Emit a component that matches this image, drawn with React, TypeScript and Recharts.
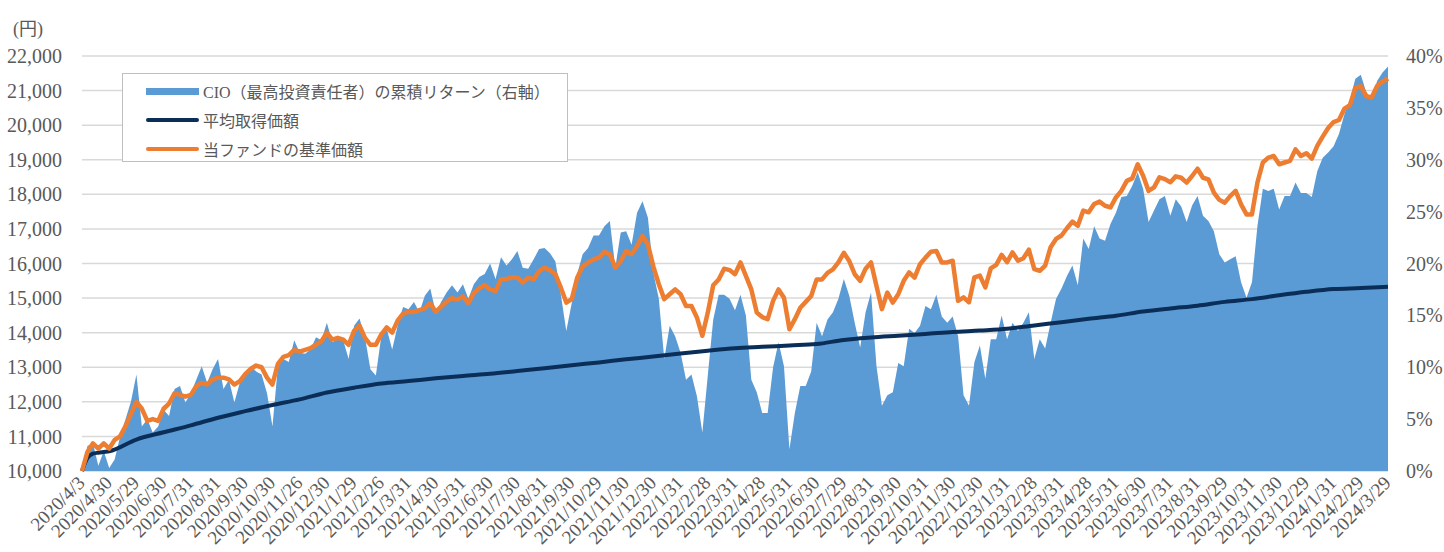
import React from 'react';
import { ComposedChart, Area, Line, XAxis, YAxis, CartesianGrid, Legend } from 'recharts';

const SERIF = '"Liberation Serif", "Noto Sans CJK JP", serif';
const GRAY = '#595959';
const SUB = 5; // readings per month

const monthEnds = [
  '2020/4/3', '2020/4/30', '2020/5/29', '2020/6/30', '2020/7/31', '2020/8/31', '2020/9/30', '2020/10/30', '2020/11/26', '2020/12/30',
  '2021/1/29', '2021/2/26', '2021/3/31', '2021/4/30', '2021/5/31', '2021/6/30', '2021/7/30', '2021/8/31', '2021/9/30', '2021/10/29', '2021/11/30', '2021/12/30',
  '2022/1/31', '2022/2/28', '2022/3/31', '2022/4/28', '2022/5/31', '2022/6/30', '2022/7/29', '2022/8/31', '2022/9/30', '2022/10/31', '2022/11/30', '2022/12/30',
  '2023/1/31', '2023/2/28', '2023/3/31', '2023/4/28', '2023/5/31', '2023/6/30', '2023/7/31', '2023/8/31', '2023/9/29', '2023/10/31', '2023/11/30', '2023/12/29',
  '2024/1/31', '2024/2/29', '2024/3/29',
];

// 当ファンドの基準価額 (円), 5 readings per month
const nav2020 = [
  10000, 10550, 10800, 10650, 10800, 10650, 10900, 11000, 11300, 11650,
  12000, 11800, 11450, 11500, 11450, 11800, 11950, 12250, 12200, 12150,
  12200, 12450, 12550, 12500, 12650, 12700, 12700, 12650, 12500, 12600,
  12800, 12950, 13050, 13000, 12700, 12500, 13100, 13300, 13350, 13500,
  13450, 13500, 13550, 13650, 13750, 14000, 13800, 13850, 13800, 13650,
];
const nav2021 = [
  14050, 14200, 13850, 13650, 13650, 13950, 14150, 14000, 14350, 14550,
  14600, 14600, 14650, 14700, 14850, 14600, 14750, 14900, 15000, 14950,
  15050, 14850, 15150, 15280, 15380, 15250, 15200, 15540, 15550, 15600,
  15590, 15450, 15590, 15540, 15780, 15880, 15810, 15690, 15300, 14870,
  14970, 15590, 15910, 16030, 16120, 16170, 16340, 16270, 15880, 16070,
  16360, 16270, 16500, 16800, 16550, 15910, 15400, 14970, 15110, 15250,
];
const nav2022 = [
  15110, 14770, 14770, 14440, 13910, 14580, 15370, 15540, 15850, 15810,
  15690, 16030, 15640, 15250, 14580, 14450, 14390, 14920, 15250, 15010,
  14100, 14390, 14720, 14890, 15060, 15540, 15540, 15730, 15830, 16030,
  16310, 16070, 15690, 15500, 15850, 16030, 15350, 14680, 15160, 14870,
  15110, 15500, 15740, 15590, 15980, 16170, 16340, 16360, 16030, 16030,
  16080, 14920, 15020, 14880, 15600, 15650, 15310, 15860, 15960, 16250,
];
const nav2023 = [
  16040, 16320, 16080, 16150, 16400, 15840, 15790, 15940, 16470, 16710,
  16810, 17020, 17210, 17090, 17530, 17480, 17720, 17790, 17670, 17620,
  17910, 18100, 18390, 18460, 18870, 18540, 18100, 18200, 18490, 18440,
  18350, 18520, 18480, 18340, 18530, 18740, 18480, 18430, 18050, 17840,
  17760, 17950, 18100, 17710, 17420, 17420, 18340, 18920, 19060, 19110,
  18870, 18920, 18970, 19300, 19110, 19190, 19030, 19400, 19670, 19920,
];
const nav2024 = [
  20090, 20150, 20480, 20580, 21080, 21130, 20840, 20800, 21130, 21260,
  21350,
];

// CIO（最高投資責任者）の累積リターン (%), same dates
const cio2020 = [
  0, 2.4, 2.7, 0.5, 1.9, 0.3, 1.1, 3.3, 5.0, 6.7,
  9.3, 4.3, 5.0, 3.7, 4.3, 5.9, 5.3, 7.9, 8.2, 6.6,
  7.5, 8.8, 10.1, 8.5, 9.8, 10.8, 7.9, 8.8, 6.6, 8.5,
  9.2, 10.1, 9.6, 9.3, 7.5, 4.3, 10.1, 10.8, 10.5, 12.6,
  11.4, 11.3, 11.7, 12.9, 12.6, 14.3, 12.4, 12.7, 12.6, 10.8,
];
const cio2021 = [
  14.0, 14.7, 12.9, 9.8, 9.2, 13.0, 13.7, 11.7, 14.0, 15.8,
  15.6, 16.3, 15.3, 16.9, 17.6, 15.3, 16.3, 17.2, 17.9, 17.2,
  18.0, 16.6, 18.0, 18.7, 19.0, 20.0, 18.5, 20.6, 19.8, 20.4,
  21.2, 19.6, 19.5, 20.4, 21.4, 21.5, 21.0, 20.2, 17.0, 13.5,
  16.2, 19.0, 20.9, 21.5, 22.7, 22.7, 23.6, 24.1, 19.6, 23.0,
  23.1, 21.8, 24.9, 26.0, 24.4, 19.1, 16.6, 10.8, 14.0, 13.0,
];
const cio2022 = [
  11.4, 8.8, 9.3, 7.2, 3.7, 9.2, 14.6, 17.0, 17.0, 16.6,
  15.5, 17.0, 15.0, 8.8, 7.6, 5.6, 5.6, 10.0, 12.4, 10.1,
  2.1, 5.6, 8.2, 8.2, 9.6, 14.3, 13.0, 14.6, 15.3, 16.6,
  18.5, 16.9, 14.3, 11.9, 15.3, 17.2, 10.1, 6.3, 7.3, 7.6,
  10.4, 10.1, 13.7, 13.3, 14.0, 15.9, 15.6, 17.0, 14.9, 14.3,
  14.9, 13.0, 7.3, 6.3, 10.5, 12.1, 8.9, 12.7, 12.7, 15.0,
];
const cio2023 = [
  12.7, 14.3, 13.5, 14.3, 15.3, 10.8, 12.7, 11.8, 14.3, 16.6,
  17.6, 18.8, 19.8, 17.9, 22.4, 21.4, 23.6, 22.4, 22.2, 23.8,
  24.9, 26.4, 26.5, 27.5, 28.8, 27.2, 24.0, 25.1, 26.2, 26.5,
  24.6, 26.2, 25.5, 24.0, 25.6, 26.5, 24.6, 24.1, 23.1, 20.9,
  20.1, 20.4, 20.7, 18.2, 16.7, 18.2, 23.6, 27.2, 27.0, 27.2,
  25.2, 26.5, 26.5, 27.8, 26.8, 26.8, 26.4, 28.9, 30.2, 30.7,
];
const cio2024 = [
  31.3, 32.5, 34.4, 35.8, 37.8, 38.2, 36.5, 35.8, 37.6, 38.4,
  39.0,
];

// 平均取得価額 (円): one value per month end, plus the fast rise in the first weeks
const avgCost = [
  10000, 10570, 10910, 11120, 11320, 11540, 11730, 11910, 12070, 12270,
  12410, 12530, 12600, 12680, 12750, 12810, 12890, 12970, 13060, 13140, 13230, 13310,
  13400, 13480, 13550, 13590, 13630, 13670, 13790, 13860, 13910, 13960, 14020, 14060,
  14110, 14210, 14300, 14400, 14490, 14610, 14700, 14780, 14890, 14970, 15080, 15180,
  15260, 15290, 15330,
];
const avgStart = [10380, 10500, 10530, 10550];

const nav = [...nav2020, ...nav2021, ...nav2022, ...nav2023, ...nav2024];
const cio = [...cio2020, ...cio2021, ...cio2022, ...cio2023, ...cio2024];

const data = nav.map((v, i) => ({
  t: i,
  nav: v,
  cio: cio[i],
  avg: i % SUB === 0 ? avgCost[i / SUB] : i < SUB ? avgStart[i - 1] : null,
}));

const xTicks = monthEnds.map((_, i) => i * SUB);
const leftTicks = [10000, 11000, 12000, 13000, 14000, 15000, 16000, 17000, 18000, 19000, 20000, 21000, 22000];
const rightTicks = [0, 5, 10, 15, 20, 25, 30, 35, 40];

function DateTick({ x, y, payload }: any) {
  const label = monthEnds[Math.round(payload.value / SUB)];
  const ax = x + 4;
  const ay = y + 11;
  return (
    <text x={ax} y={ay} textAnchor="end" transform={`rotate(-45 ${ax} ${ay})`} fill={GRAY} fontSize={19} fontFamily={SERIF}>
      {label}
    </text>
  );
}

const legendItems = [
  { name: 'CIO（最高投資責任者）の累積リターン（右軸）', color: '#5B9BD5', kind: 'area' },
  { name: '平均取得価額', color: '#0B2E59', kind: 'line' },
  { name: '当ファンドの基準価額', color: '#ED7D31', kind: 'line' },
];

function LegendBox() {
  return (
    <div style={{ position: 'relative', width: 444, height: 87, border: '1.5px solid #bfbfbf', background: '#fff' }}>
      {legendItems.map((it, i) => (
        <div key={it.name} style={{ position: 'absolute', left: 0, top: 3 + i * 29, height: 28, display: 'flex', alignItems: 'center' }}>
          <span
            style={{
              display: 'inline-block',
              marginLeft: 23,
              width: 53,
              height: it.kind === 'area' ? 7 : 4,
              borderRadius: it.kind === 'area' ? 0 : 2,
              background: it.color,
            }}
          />
          <span style={{ marginLeft: 4, fontFamily: SERIF, fontSize: 16, color: GRAY, whiteSpace: 'nowrap' }}>{it.name}</span>
        </div>
      ))}
    </div>
  );
}

export default function App() {
  return (
    <div style={{ position: 'absolute', left: 0, top: 0, width: 1444, height: 552, background: '#fff' }}>
      <div style={{ position: 'absolute', left: 13, top: 14, fontFamily: SERIF, fontSize: 18, color: GRAY }}>(円)</div>
      <ComposedChart width={1444} height={552} data={data} margin={{ top: 56, right: 0, bottom: 1, left: 0 }}>
        <CartesianGrid yAxisId="left" vertical={false} stroke="#d9d9d9" strokeWidth={1.5} />
        <XAxis
          dataKey="t"
          type="number"
          domain={[0, 240]}
          ticks={xTicks}
          interval={0}
          tick={<DateTick />}
          tickLine={false}
          axisLine={false}
          tickSize={0}
          height={80}
        />
        <YAxis
          yAxisId="left"
          domain={[10000, 22000]}
          ticks={leftTicks}
          width={82}
          axisLine={false}
          tickLine={false}
          tickSize={0}
          tickMargin={20}
          tickFormatter={(v: number) => v.toLocaleString('en-US')}
          tick={{ fill: GRAY, fontSize: 20, fontFamily: SERIF }}
        />
        <YAxis
          yAxisId="right"
          orientation="right"
          domain={[0, 40]}
          ticks={rightTicks}
          width={56}
          axisLine={false}
          tickLine={false}
          tickSize={0}
          tickMargin={18}
          tickFormatter={(v: number) => `${v}%`}
          tick={{ fill: GRAY, fontSize: 20, fontFamily: SERIF }}
        />
        <Legend
          layout="vertical"
          align="center"
          verticalAlign="middle"
          content={<LegendBox />}
          wrapperStyle={{ left: 122, top: 73, width: 447, height: 90 }}
        />
        <Area
          yAxisId="right"
          dataKey="cio"
          type="linear"
          fill="#5B9BD5"
          fillOpacity={1}
          stroke="none"
          isAnimationActive={false}
        />
        <Line
          yAxisId="left"
          dataKey="avg"
          type="monotone"
          stroke="#0B2E59"
          strokeWidth={4}
          dot={false}
          connectNulls
          isAnimationActive={false}
        />
        <Line
          yAxisId="left"
          dataKey="nav"
          type="linear"
          stroke="#ED7D31"
          strokeWidth={4.5}
          strokeLinejoin="round"
          dot={false}
          isAnimationActive={false}
        />
      </ComposedChart>
    </div>
  );
}
